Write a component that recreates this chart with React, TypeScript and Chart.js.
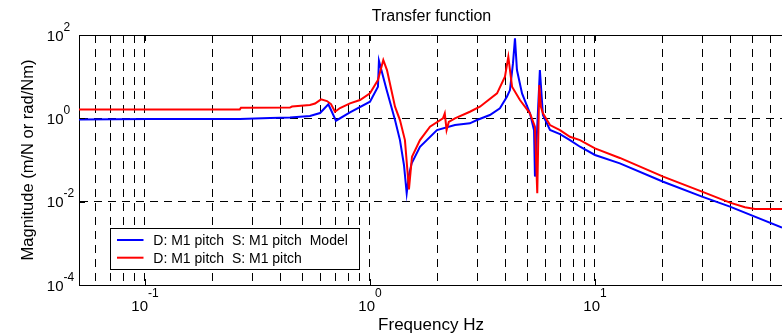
import React, { useEffect, useRef } from "react";
import { Chart, registerables } from "chart.js";

Chart.register(...registerables);

// ---- Data ----
const blueFreq = [0.05, 0.105, 0.264, 0.36, 0.441, 0.541, 0.6, 0.653, 0.706, 0.815, 1.0, 1.085, 1.096, 1.186, 1.292, 1.359, 1.416, 1.456, 1.49, 1.532, 1.668, 1.985, 2.386, 2.78, 2.99, 3.41, 3.78, 4.06, 4.19, 4.32, 4.41, 4.5, 4.74, 5.14, 5.36, 5.41, 5.69, 5.87, 6.31, 6.99, 7.74, 8.58, 10, 12.9, 20.1, 29.9, 39.8, 67.8];
const blueMag = [0.94, 0.96, 0.96, 1.02, 1.045, 1.135, 1.34, 2.17, 0.876, 1.39, 2.5, 5.73, 24.0, 4.77, 0.91, 0.3, 0.076, 0.0158, 0.0437, 0.0833, 0.208, 0.524, 0.69, 0.76, 0.91, 1.2, 1.74, 3.3, 4.77, 20.8, 82.9, 14.4, 3.98, 1.32, 0.52, 0.04, 14.4, 1.2, 0.524, 0.42, 0.3, 0.208, 0.132, 0.083, 0.03, 0.0132, 0.0076, 0.00238];

const redFreq = [0.05, 0.264, 0.267, 0.441, 0.45, 0.541, 0.57, 0.606, 0.644, 0.671, 0.699, 0.736, 0.815, 0.903, 1.0, 1.085, 1.146, 1.19, 1.292, 1.359, 1.43, 1.49, 1.537, 1.668, 1.848, 2.11, 2.15, 2.19, 2.24, 2.386, 2.78, 3.08, 3.67, 3.98, 4.12, 4.28, 4.64, 5.14, 5.41, 5.54, 5.655, 5.75, 5.87, 6.31, 6.99, 7.74, 8.58, 10, 12.9, 20.1, 29.9, 39.8, 46.4, 51.4, 67.8];
const redMag = [1.63, 1.64, 1.79, 1.81, 1.92, 2.08, 2.26, 2.86, 2.6, 2.2, 1.44, 1.77, 2.29, 2.75, 3.98, 8.3, 25, 14.4, 1.9, 0.91, 0.3, 0.0198, 0.12, 0.3, 0.63, 1.0, 1.32, 0.52, 0.82, 1.0, 1.44, 1.9, 3.98, 9.95, 30, 5.73, 2.75, 1.32, 0.63, 0.0159, 6.3, 1.9, 1.32, 0.69, 0.52, 0.36, 0.3, 0.19, 0.112, 0.0398, 0.0174, 0.00946, 0.00735, 0.00668, 0.00668];

const seriesLabels = ["D: M1 pitch  S: M1 pitch  Model", "D: M1 pitch  S: M1 pitch"];
const seriesColors = ["#0000ff", "#ff0000"];

const xMin = 0.0509;
const xMax = 67.8;
const yMin = 1e-4;
const yMax = 1e2;

const xGridValues = [0.06, 0.07, 0.08, 0.09, 0.1, 0.2, 0.3, 0.4, 0.5, 0.6, 0.7, 0.8, 0.9, 1, 2, 3, 4, 5, 6, 7, 8, 9, 10, 20, 30, 40, 50, 60];
const yGridValues = [0.01, 1];

const xTickValues = [0.1, 1, 10];
const xTickExps = ["-1", "0", "1"];
const yTickValues = [1e-4, 1e-2, 1, 1e2];
const yTickExps = ["-4", "-2", "0", "2"];

const titleText = "Transfer function";
const xTitle = "Frequency Hz";
const yTitle = "Magnitude (m/N or rad/Nm)";

const FONT = '"Liberation Sans", Arial, Helvetica, sans-serif';

const textPlugin = {
  id: "matlabText",
  afterDraw(chart: any) {
    const { ctx, chartArea: ca, scales } = chart;
    const xs = scales.x;
    const ys = scales.y;
    ctx.save();
    // top border
    ctx.strokeStyle = "#000";
    ctx.lineWidth = 1;
    ctx.setLineDash([]);
    ctx.beginPath();
    ctx.moveTo(ca.left, Math.round(ca.top) + 0.5);
    ctx.lineTo(ca.right, Math.round(ca.top) + 0.5);
    ctx.stroke();

    // major inward tick marks
    const tickLen = 6;
    ctx.beginPath();
    xTickValues.forEach((v) => {
      const px = Math.round(xs.getPixelForValue(v)) + 0.5;
      ctx.moveTo(px, ca.bottom);
      ctx.lineTo(px, ca.bottom - tickLen);
      ctx.moveTo(px, ca.top);
      ctx.lineTo(px, ca.top + tickLen);
    });
    yTickValues.forEach((v) => {
      const py = Math.round(ys.getPixelForValue(v)) + 0.5;
      ctx.moveTo(ca.left, py);
      ctx.lineTo(ca.left + tickLen, py);
    });
    ctx.stroke();

    ctx.fillStyle = "#000";
    ctx.textBaseline = "alphabetic";
    // title
    ctx.font = `16px ${FONT}`;
    ctx.textAlign = "center";
    ctx.fillText(titleText, 431.5, 21);

    // x title
    ctx.font = `17px ${FONT}`;
    ctx.fillText(xTitle, 431, 330);

    // y title
    ctx.save();
    ctx.translate(33, 160);
    ctx.rotate(-Math.PI / 2);
    ctx.font = `16.5px ${FONT}`;
    ctx.fillText(yTitle, 0, 0);
    ctx.restore();

    // x tick labels
    const baseSize = 15;
    const supSize = 12;
    xTickValues.forEach((v, i) => {
      const px = xs.getPixelForValue(v);
      ctx.font = `${baseSize}px ${FONT}`;
      const wBase = ctx.measureText("10").width;
      ctx.font = `${supSize}px ${FONT}`;
      const wSup = ctx.measureText(xTickExps[i]).width;
      const start = px - (wBase + wSup) / 2;
      ctx.textAlign = "left";
      ctx.font = `${baseSize}px ${FONT}`;
      ctx.fillText("10", start, 310.5);
      ctx.font = `${supSize}px ${FONT}`;
      ctx.fillText(xTickExps[i], start + wBase, 297);
    });

    // y tick labels
    yTickValues.forEach((v, i) => {
      const py = ys.getPixelForValue(v);
      ctx.font = `${baseSize}px ${FONT}`;
      ctx.textAlign = "right";
      ctx.fillText("10", 63.5, py + 5.5);
      ctx.font = `${supSize}px ${FONT}`;
      ctx.textAlign = "left";
      ctx.fillText(yTickExps[i], 63.5, py - 4.5);
    });

    // legend
    const bx = 110.5, by = 228.5, bw = 249, bh = 41;
    ctx.fillStyle = "#fff";
    ctx.fillRect(bx, by, bw, bh);
    ctx.strokeStyle = "#000";
    ctx.lineWidth = 1;
    ctx.strokeRect(bx, by, bw, bh);
    const rows = [240, 257.7];
    chart.data.datasets.forEach((ds: any, i: number) => {
      const yy = rows[i];
      ctx.strokeStyle = ds.borderColor;
      ctx.lineWidth = 2;
      ctx.beginPath();
      ctx.moveTo(117, yy);
      ctx.lineTo(143.5, yy);
      ctx.stroke();
      ctx.fillStyle = "#000";
      ctx.font = `14px ${FONT}`;
      ctx.textAlign = "left";
      ctx.fillText(ds.label, 153.3, yy + 5);
    });
    ctx.restore();
  },
};

export default function App() {
  const canvasRef = useRef<HTMLCanvasElement | null>(null);

  useEffect(() => {
    const canvas = canvasRef.current;
    if (!canvas) return;
    const blueData = blueFreq.map((f, i) => ({ x: f, y: blueMag[i] }));
    const redData = redFreq.map((f, i) => ({ x: f, y: redMag[i] }));
    const chart = new Chart(canvas, {
      type: "line",
      data: {
        datasets: [
          {
            label: seriesLabels[0],
            data: blueData,
            borderColor: seriesColors[0],
            backgroundColor: seriesColors[0],
            borderWidth: 2,
            pointRadius: 0,
            tension: 0,
            order: 1,
          },
          {
            label: seriesLabels[1],
            data: redData,
            borderColor: seriesColors[1],
            backgroundColor: seriesColors[1],
            borderWidth: 2,
            pointRadius: 0,
            tension: 0,
            order: 0,
          },
        ],
      },
      options: {
        animation: false,
        responsive: false,
        devicePixelRatio: 1,
        layout: { padding: { left: 79, top: 35, right: 0, bottom: 50 } },
        plugins: {
          legend: { display: false },
          title: { display: false },
          tooltip: { enabled: false },
        },
        scales: {
          x: {
            type: "logarithmic",
            min: xMin,
            max: xMax,
            afterBuildTicks: (scale: any) => {
              scale.ticks = xGridValues.map((v) => ({ value: v }));
            },
            ticks: { display: false },
            grid: { color: "#000", lineWidth: 1, drawTicks: false },
            border: { display: true, color: "#000", width: 1, dash: [8, 6] },
          },
          y: {
            type: "logarithmic",
            min: yMin,
            max: yMax,
            afterBuildTicks: (scale: any) => {
              scale.ticks = yGridValues.map((v) => ({ value: v }));
            },
            ticks: { display: false },
            grid: { color: "#000", lineWidth: 1, drawTicks: false },
            border: { display: true, color: "#000", width: 1, dash: [8, 6] },
          },
        },
      },
      plugins: [textPlugin],
    });
    return () => chart.destroy();
  }, []);

  return (
    <div style={{ position: "fixed", left: 0, top: 0, width: 782, height: 335, background: "#fff" }}>
      <canvas ref={canvasRef} width={782} height={335} style={{ display: "block" }} />
    </div>
  );
}
